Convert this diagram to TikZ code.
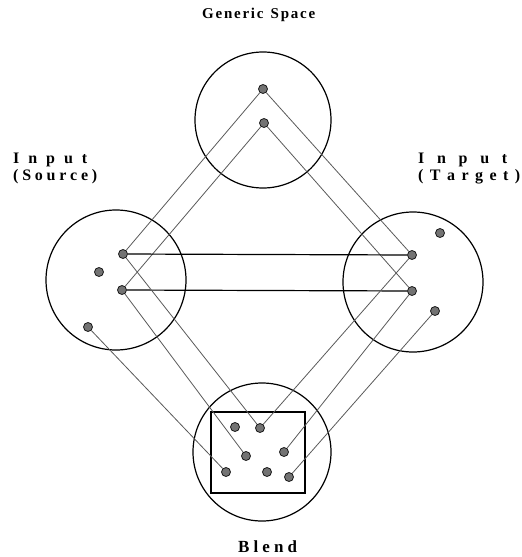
\documentclass[tikz,border=0pt]{standalone}
\usepackage{fontspec}
\setmainfont{Liberation Serif}
\begin{document}
\begin{tikzpicture}[x=1pt,y=-1pt,
  space/.style={draw=black,line width=1.2pt,circle,inner sep=0pt},
  dot/.style={draw=black!90,fill=black!55,line width=0.8pt,circle,inner sep=0pt,minimum size=9pt},
  link/.style={draw=black!65,line width=0.8pt},
  strong/.style={draw=black,line width=1.2pt},
  lbl/.style={inner sep=0pt,anchor=base west,font=\bfseries\fontsize{16}{18}\selectfont}]
\useasboundingbox (0,0) rectangle (522,557);
% spaces
\node[space,minimum size=136pt] (gen) at (263,120) {};
\node[space,minimum size=140pt] (src) at (116,280) {};
\node[space,minimum size=140pt] (tgt) at (413,282) {};
\node[space,minimum size=138pt] (bld) at (262,452) {};
\node[draw=black,line width=1.1pt,inner sep=0pt,minimum width=94pt,minimum height=81pt] (box) at (258,452.5) {};
% dots
\node[dot] (G1) at (263,89) {};
\node[dot] (G2) at (264,123) {};
\node[dot] (S1) at (123,254) {};
\node[dot] (S3) at (99,272) {};
\node[dot] (S2) at (122,290) {};
\node[dot] (S4) at (88,327) {};
\node[dot] (T1) at (412,255) {};
\node[dot] (T3) at (440,233) {};
\node[dot] (T2) at (412,291) {};
\node[dot] (T4) at (435,311) {};
\node[dot] (B1) at (235,427) {};
\node[dot] (B2) at (260,428) {};
\node[dot] (B3) at (246,456) {};
\node[dot] (B4) at (284,452) {};
\node[dot] (B5) at (226,472) {};
\node[dot] (B6) at (267,472) {};
\node[dot] (B7) at (289,477) {};
% connectors
\draw[link] (G1) -- (S1);
\draw[link] (G1) -- (T1);
\draw[link] (G2) -- (S2);
\draw[link] (G2) -- (T2);
\draw[strong] (S1) -- (T1);
\draw[strong] (S2) -- (T2);
\draw[link] (S1) -- (B2);
\draw[link] (S2) -- (B3);
\draw[link] (S4) -- (B5);
\draw[link] (T1) -- (B2);
\draw[link] (T2) -- (B4);
\draw[link] (T4) -- (B7);
% labels
\node[lbl,font=\bfseries\fontsize{15}{17}\selectfont] (lgen) at (202,18) {\makebox[113pt][s]{G\hfill e\hfill n\hfill e\hfill r\hfill i\hfill c\hfill\ \hfill S\hfill p\hfill a\hfill c\hfill e}};
\node[lbl] (lsrc1) at (13,163) {\makebox[74pt][s]{I\hfill n\hfill p\hfill u\hfill t}};
\node[lbl] (lsrc2) at (13,180) {\makebox[84pt][s]{(\hfill S\hfill o\hfill u\hfill r\hfill c\hfill e\hfill )}};
\node[lbl] (ltgt1) at (418,163) {\makebox[89pt][s]{I\hfill n\hfill p\hfill u\hfill t}};
\node[lbl] (ltgt2) at (418,180) {\makebox[102pt][s]{(\hfill T\hfill a\hfill r\hfill g\hfill e\hfill t\hfill )}};
\node[lbl,font=\bfseries\fontsize{17}{19}\selectfont] (lbld) at (238,552) {\makebox[59pt][s]{B\hfill l\hfill e\hfill n\hfill d}};
\end{tikzpicture}
\end{document}
